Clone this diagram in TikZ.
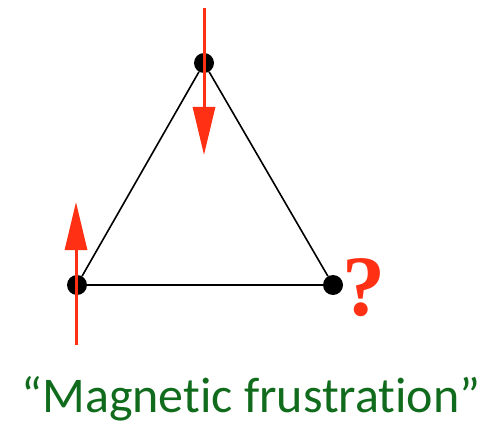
\documentclass[tikz,border=0pt]{standalone}
\usepackage{fontspec}
\setmainfont[Ligatures=NoCommon]{Carlito}
\newfontfamily\qfont{Liberation Serif}
\usepackage{xcolor}
\usetikzlibrary{arrows.meta, positioning}
\definecolor{spinred}{RGB}{255,48,20}
\definecolor{labelgreen}{RGB}{16,108,28}
\tikzset{
    site/.style={circle, fill=black, inner sep=0pt, minimum size=20pt},
    bond/.style={line width=1.6pt, black},
    spin/.style={line width=3pt, spinred, -{Triangle[length=48pt,width=22pt]}}
}
\begin{document}
\begin{tikzpicture}[x=1pt, y=-1pt]
    \useasboundingbox (0,0) rectangle (487,425);
    % lattice sites
    \node (top) [site] at (204,63) {};
    \node (left) [site] at (77,285) {};
    \node (right) [site] at (333,285) {};

    \draw [bond] (top) -- (left) -- (right) -- (top);

    % spins
    \coordinate (topstart) at (204,8);
    \coordinate (topend) at (204,155);
    \coordinate (leftstart) at (76,345);
    \coordinate (leftend) at (76,202);
    \draw [spin] (topstart) -- (topend);
    \draw [spin] (leftstart) -- (leftend);

    \node (query) [text=spinred, font=\qfont\bfseries\fontsize{86}{86}\selectfont, anchor=base west, inner sep=0pt] at (342,315) {?};

    \node (caption) [text=labelgreen, font=\fontsize{50}{50}\selectfont, anchor=base, inner sep=0pt] at (251,412) {“Magnetic frustration”};
\end{tikzpicture}
\end{document}
